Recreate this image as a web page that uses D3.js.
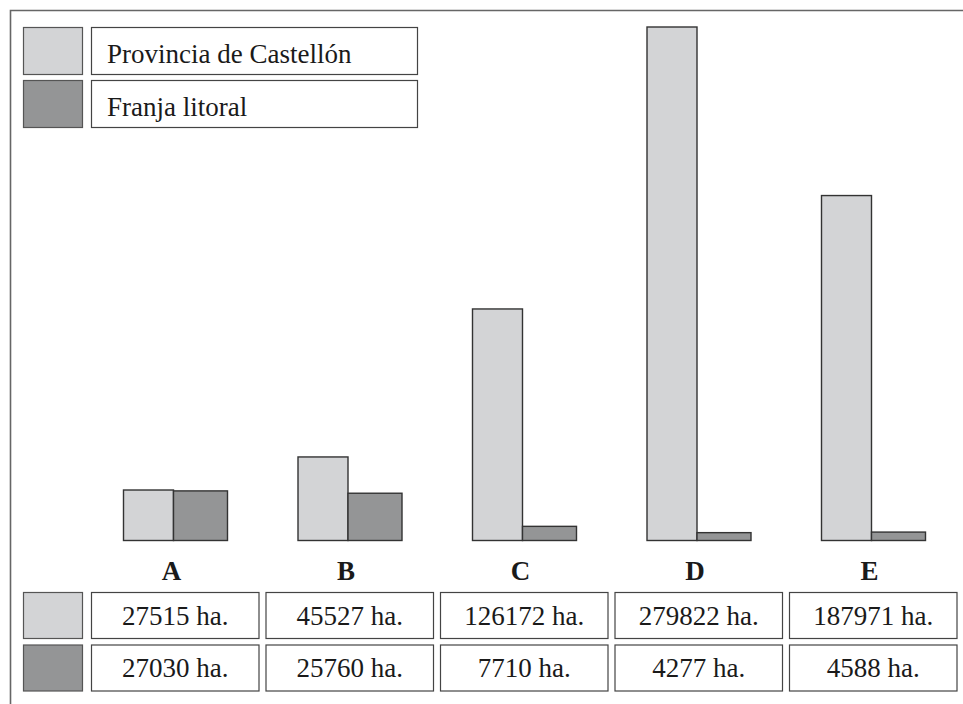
<!DOCTYPE html>
<html><head><meta charset="utf-8">
<script src="https://cdn.jsdelivr.net/npm/d3@7"></script>
<style>body{margin:0;background:#fff}svg{display:block}svg text{font-family:"Liberation Serif","Times New Roman",Times,serif}</style>
</head><body>
<script>
const categories = ["A","B","C","D","E"];
const provincia = [27515, 45527, 126172, 279822, 187971];
const franja = [27030, 25760, 7710, 4277, 4588];
const seriesNames = ["Provincia de Castellón", "Franja litoral"];
const unit = " ha.";

const W = 963, H = 704;
const colors = ["#d3d4d6", "#949596"];
const svg = d3.select("body").append("svg").attr("width", W).attr("height", H);

// frame
svg.append("path").attr("d", `M10.5,${H} V10.5 H${W}`).attr("fill","none").attr("stroke","#666").attr("stroke-width",1.6);

const step = 174.5;
const x = d3.scaleBand().domain(categories).range([91, 91 + step*categories.length]).padding(0);
const xb = d3.scaleBand().domain(categories).range([123.5, 123.5 + step*categories.length]).padding(0);
const y = d3.scaleLinear().domain([0, 279822]).range([540.5, 27]);

const g = svg.append("g");
categories.forEach((c, i) => {
  const x0 = xb(c);
  g.append("rect").attr("x", x0).attr("y", y(provincia[i])).attr("width", 50).attr("height", y(0) - y(provincia[i]))
    .attr("fill", colors[0]).attr("stroke", "#333").attr("stroke-width", 1.4);
  g.append("rect").attr("x", x0 + 50).attr("y", y(franja[i])).attr("width", 54).attr("height", y(0) - y(franja[i]))
    .attr("fill", colors[1]).attr("stroke", "#333").attr("stroke-width", 1.4);
  svg.append("text").attr("x", x0 + 48).attr("y", 580).attr("text-anchor","middle")
    .attr("font-weight","bold").attr("font-size", 27).attr("fill","#1a1a1a").text(c);
});

// legend
seriesNames.forEach((s, j) => {
  const ly = 27.5 + j*53;
  svg.append("rect").attr("x", 23.5).attr("y", ly).attr("width", 59).attr("height", 47)
    .attr("fill", colors[j]).attr("stroke", "#555").attr("stroke-width", 1.2);
  svg.append("rect").attr("x", 91.5).attr("y", ly).attr("width", 326).attr("height", 47)
    .attr("fill", "#fff").attr("stroke", "#444").attr("stroke-width", 1.2);
  svg.append("text").attr("x", 107).attr("y", ly + 35).attr("font-size", 27)
    .attr("fill", "#1a1a1a").text(s);
});

// table
const rows = [provincia, franja];
rows.forEach((vals, j) => {
  const ry = 592.5 + j*52.5;
  svg.append("rect").attr("x", 23.5).attr("y", ry).attr("width", 59).attr("height", 46)
    .attr("fill", colors[j]).attr("stroke", "#555").attr("stroke-width", 1.2);
  categories.forEach((c, i) => {
    svg.append("rect").attr("x", x(c) + 0.5).attr("y", ry).attr("width", step - 7).attr("height", 46)
      .attr("fill", "#fff").attr("stroke", "#444").attr("stroke-width", 1.2);
    svg.append("text").attr("x", x(c) + (step - 6)/2).attr("y", ry + 32).attr("text-anchor", "middle")
      .attr("font-size", 27).attr("fill", "#1a1a1a").text(vals[i] + unit);
  });
});
</script>
</body></html>
